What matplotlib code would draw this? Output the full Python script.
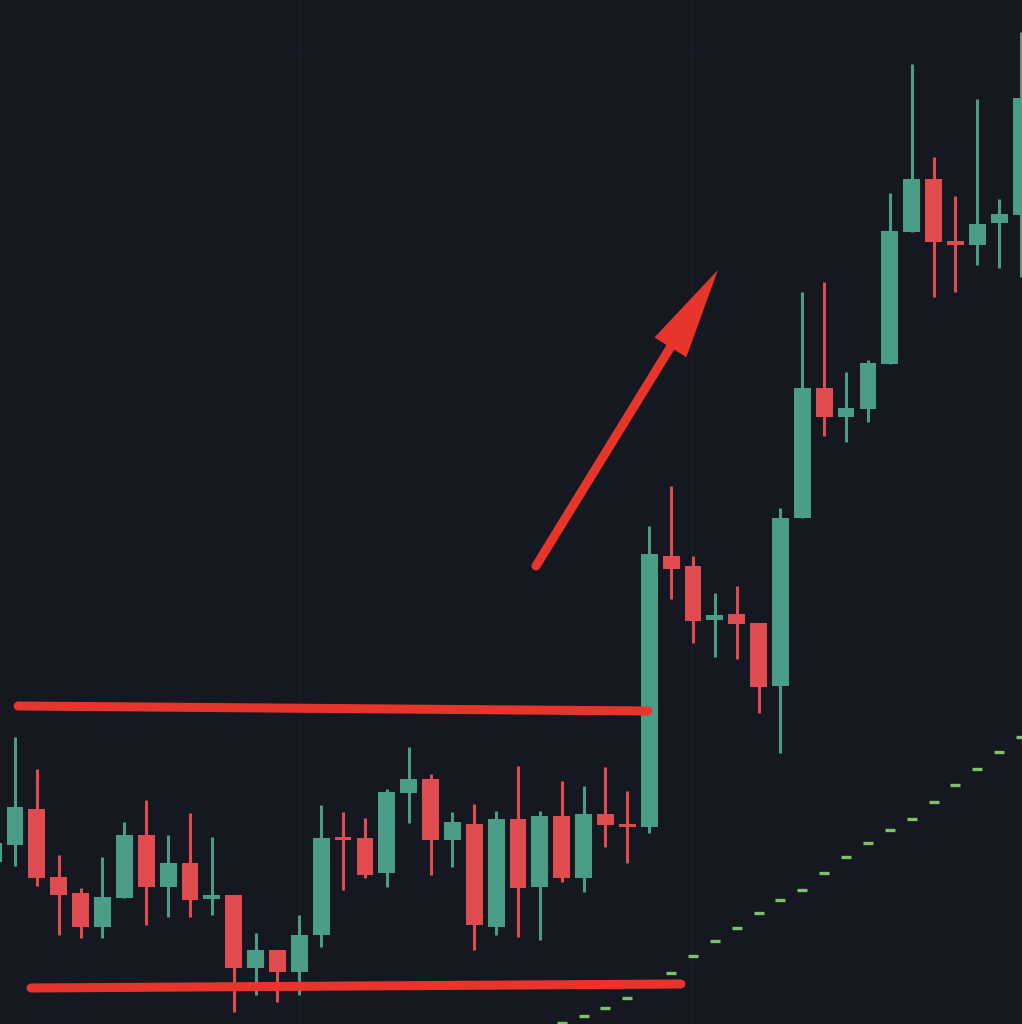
import matplotlib
matplotlib.use("Agg")
import matplotlib.pyplot as plt
from matplotlib.patches import FancyArrowPatch
import numpy as np

# ---- data (price units) ----
opens  = [162, 179, 215, 147, 131, 97, 126, 189, 137, 161, 126, 129, 56, 74, 52, 89,
          187, 186, 151, 231, 245, 184, 200, 97, 205, 137, 208, 146, 210, 200,
          197, 468, 458, 404, 410, 401, 338, 506, 636, 607, 615, 660, 792, 845, 783, 779, 801, 809]
closes = [181, 217, 146, 129, 97, 127, 189, 137, 161, 124, 128, 56, 74, 52, 89, 186,
          184, 149, 232, 245, 184, 202, 99, 205, 136, 208, 146, 210, 199, 197,
          470, 455, 403, 409, 400, 337, 506, 636, 607, 616, 661, 793, 845, 782, 779, 800, 810, 926]
highs  = [194, 287, 255, 169, 136, 167, 202, 224, 189, 211, 187, 129, 91, 74, 109, 219,
          212, 206, 235, 277, 250, 212, 220, 213, 258, 213, 243, 238, 257, 233,
          498, 538, 468, 431, 438, 401, 516, 732, 742, 652, 664, 831, 960, 867, 828, 925, 825, 992]
lows   = [156, 158, 138, 89, 86, 86, 126, 99, 107, 107, 109, 12, 29, 22, 29, 77,
          134, 146, 137, 201, 149, 157, 74, 89, 87, 84, 142, 132, 177, 161,
          191, 425, 381, 367, 365, 311, 271, 506, 588, 582, 602, 660, 792, 727, 732, 759, 756, 747]

trend_idx = list(range(26, 48))
trend_vals = [1, 8, 16, 26, 38, 51, 68, 83, 96, 111, 124, 134, 151, 167, 181, 194,
              205, 222, 239, 255, 272, 287]

resistance_x = [1.14, 29.94]
resistance_y = [318, 313]
support_x = [1.73, 31.45]
support_y = [36, 40]
arrow_tail = (24.82, 458)
arrow_tip = (33.14, 754)

grid_x = [14.03, 31.96]
grid_y = [61, 974]

# ---- style ----
BG = "#151821"
GREEN = "#4a9d86"
RED = "#e04b4f"
LINE_RED = "#e8352b"
DASH_GREEN = "#7cc266"

fig = plt.figure(figsize=(10.22, 10.24), dpi=100)
fig.patch.set_facecolor(BG)
ax = fig.add_axes([0, 0, 1, 1])
ax.set_facecolor(BG)
ax.set_xlim(0.314, 47.045)
ax.set_ylim(0, 1024)
ax.axis("off")

for gx in grid_x:
    ax.axvline(gx, color="#191c26", lw=1.2, zorder=0)
for gy in grid_y:
    ax.axhline(gy, color="#191c26", lw=1.2, zorder=0)

idx = np.arange(len(opens))
o = np.array(opens); c = np.array(closes); h = np.array(highs); l = np.array(lows)
up = c >= o
colors = np.where(up, GREEN, RED)

ax.vlines(idx, l, h, colors=colors, lw=2.2, zorder=2)
body_bottom = np.minimum(o, c)
body_h = np.maximum(np.abs(c - o), 3.5)
ax.bar(idx, body_h, bottom=body_bottom - (body_h - np.abs(c - o)) / 2,
       width=0.77, color=colors, edgecolor="none", zorder=3)

# trend dashes
ax.scatter(trend_idx, trend_vals, marker="_", s=55, linewidths=2.4,
           color=DASH_GREEN, zorder=2)

# horizontal levels
ax.plot(resistance_x, resistance_y, color=LINE_RED, lw=6.5,
        solid_capstyle="round", zorder=4)
ax.plot(support_x, support_y, color=LINE_RED, lw=6.5,
        solid_capstyle="round", zorder=4)

# arrow
arr = FancyArrowPatch(arrow_tail, arrow_tip,
                      arrowstyle="-|>,head_length=46,head_width=9.5",
                      mutation_scale=1, lw=6.5, color=LINE_RED,
                      shrinkA=0, shrinkB=0, capstyle="round",
                      joinstyle="miter", zorder=5)
ax.add_patch(arr)

fig.savefig("out.png", dpi=100, facecolor=BG)
